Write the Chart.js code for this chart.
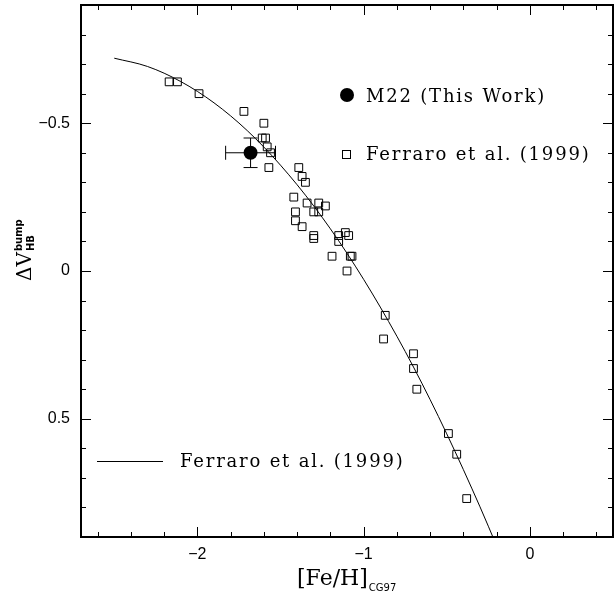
<!DOCTYPE html>
<html>
<head>
<meta charset="utf-8">
<script src="https://cdn.jsdelivr.net/npm/chart.js@4/dist/chart.umd.min.js"></script>
<style>
  html, body { margin: 0; padding: 0; background: #fff; }
</style>
</head>
<body>
<canvas id="chart" width="616" height="593"></canvas>
<script>
// Ferraro et al. (1999) clusters
const ferraroFeH = [-2.17, -2.12, -1.99, -1.72, -1.60, -1.61, -1.59, -1.58, -1.56, -1.57,
                    -1.39, -1.37, -1.35, -1.42, -1.34, -1.27, -1.23, -1.41, -1.30, -1.27,
                    -1.41, -1.37, -1.30, -1.30, -1.11, -1.15, -1.09, -1.15, -1.19, -1.08,
                    -1.07, -1.10, -0.87, -0.88, -0.70, -0.70, -0.68, -0.49, -0.44, -0.38];
const ferraroDV = [-0.64, -0.64, -0.60, -0.54, -0.50, -0.45, -0.45, -0.42, -0.40, -0.35,
                   -0.35, -0.32, -0.30, -0.25, -0.23, -0.23, -0.22, -0.20, -0.20, -0.20,
                   -0.17, -0.15, -0.12, -0.11, -0.13, -0.12, -0.12, -0.10, -0.05, -0.05,
                   -0.05, 0.00, 0.15, 0.23, 0.28, 0.33, 0.40, 0.55, 0.62, 0.77];

// M22 (this work)
const m22FeH = [-1.68];
const m22DV = [-0.40];
const m22ErrFeH = [0.15];
const m22ErrDV = [0.05];

// Ferraro et al. (1999) relation
const fitFeH = [-2.5, -2.3, -2.1, -1.9, -1.7, -1.5, -1.3, -1.1, -0.9, -0.7, -0.5, -0.3, -0.2];
const fitDV = [-0.720, -0.692, -0.641, -0.569, -0.475, -0.358, -0.220, -0.060, 0.122, 0.325, 0.551, 0.798, 0.930];

const xTicks = [-2, -1, 0];
const yTicks = [-0.5, 0, 0.5];

const serif = '"DejaVu Serif", serif';
const sans = '"DejaVu Sans", sans-serif';
const tickFont = '16px "Liberation Sans", sans-serif';
const fmt = v => v < 0 ? '\u2212' + Math.abs(v) : String(v);
const pts = (xs, ys) => xs.map((x, i) => ({ x, y: ys[i] }));

const frame = {
    id: 'frame',
    afterDraw(chart) {
        const { ctx, chartArea: a, scales: { x, y } } = chart;
        ctx.save();
        ctx.strokeStyle = '#000';
        ctx.lineWidth = 1;
        ctx.beginPath();
        for (let k = -13; k <= 2; k++) {
            const px = Math.round(x.getPixelForValue(k / 5)) + 0.5;
            const len = k % 5 === 0 ? 10 : 5;
            ctx.moveTo(px, a.bottom); ctx.lineTo(px, a.bottom - len);
            ctx.moveTo(px, a.top); ctx.lineTo(px, a.top + len);
        }
        for (let k = -8; k <= 8; k++) {
            const py = Math.round(y.getPixelForValue(k / 10)) + 0.5;
            const len = k % 5 === 0 ? 10 : 5;
            ctx.moveTo(a.left, py); ctx.lineTo(a.left + len, py);
            ctx.moveTo(a.right, py); ctx.lineTo(a.right - len, py);
        }
        ctx.stroke();
        ctx.lineWidth = 2;
        ctx.strokeRect(a.left, a.top, a.width, a.height);

        // tick labels
        ctx.fillStyle = '#000';
        ctx.font = tickFont;
        ctx.textAlign = 'center';
        ctx.textBaseline = 'middle';
        xTicks.forEach(v => ctx.fillText(fmt(v), x.getPixelForValue(v), a.bottom + 18));
        ctx.textAlign = 'right';
        yTicks.forEach(v => ctx.fillText(fmt(v), a.left - 11, y.getPixelForValue(v)));

        // axis titles
        ctx.textAlign = 'left';
        ctx.textBaseline = 'alphabetic';
        ctx.font = '22px ' + serif;
        ctx.fillText('[Fe/H]', 297, 585);
        const w1 = ctx.measureText('[Fe/H]').width;
        ctx.font = '10px ' + sans;
        ctx.fillText('CG97', 297 + w1 + 1, 591);

        ctx.save();
        ctx.translate(31, 281);
        ctx.rotate(-Math.PI / 2);
        ctx.font = '20px ' + serif;
        ctx.fillText('\u0394V', 0, 0);
        const w2 = ctx.measureText('\u0394V').width;
        ctx.font = 'bold 10px ' + sans;
        ctx.fillText('bump', w2 + 1, -9);
        ctx.fillText('HB', w2 + 1, 3);
        ctx.restore();

        // legend
        ctx.font = '18px ' + serif;
        ctx.letterSpacing = '1.8px';
        ctx.beginPath();
        ctx.arc(347, 95, 7, 0, Math.PI * 2);
        ctx.fill();
        ctx.fillText('M22 (This Work)', 366, 102);
        ctx.lineWidth = 1;
        ctx.strokeRect(342.5, 150.5, 8, 8);
        ctx.fillText('Ferraro et al. (1999)', 366, 160);
        ctx.beginPath();
        ctx.moveTo(97, 461.5); ctx.lineTo(163, 461.5);
        ctx.stroke();
        ctx.fillText('Ferraro et al. (1999)', 180, 467);
        ctx.restore();
    }
};

const errorBars = {
    id: 'errorBars',
    afterDatasetsDraw(chart) {
        const { ctx, scales: { x, y } } = chart;
        ctx.save();
        ctx.strokeStyle = '#000';
        ctx.lineWidth = 1;
        ctx.beginPath();
        m22FeH.forEach((fe, i) => {
            const cx = x.getPixelForValue(fe), cy = y.getPixelForValue(m22DV[i]);
            const x0 = x.getPixelForValue(fe - m22ErrFeH[i]), x1 = x.getPixelForValue(fe + m22ErrFeH[i]);
            const y0 = y.getPixelForValue(m22DV[i] - m22ErrDV[i]), y1 = y.getPixelForValue(m22DV[i] + m22ErrDV[i]);
            ctx.moveTo(x0, cy); ctx.lineTo(x1, cy);
            ctx.moveTo(x0, cy - 7); ctx.lineTo(x0, cy + 7);
            ctx.moveTo(x1, cy - 7); ctx.lineTo(x1, cy + 7);
            ctx.moveTo(cx, y0); ctx.lineTo(cx, y1);
            ctx.moveTo(cx - 7, y0); ctx.lineTo(cx + 7, y0);
            ctx.moveTo(cx - 7, y1); ctx.lineTo(cx + 7, y1);
        });
        ctx.stroke();
        ctx.restore();
    }
};

new Chart(document.getElementById('chart'), {
    type: 'scatter',
    data: {
        datasets: [
            {
                label: 'Ferraro et al. (1999) relation',
                data: pts(fitFeH, fitDV),
                showLine: true,
                cubicInterpolationMode: 'monotone',
                pointRadius: 0,
                borderColor: '#000',
                borderWidth: 1
            },
            {
                label: 'Ferraro et al. (1999)',
                data: pts(ferraroFeH, ferraroDV),
                pointStyle: 'rect',
                pointRadius: 5.5,
                borderColor: '#000',
                backgroundColor: 'rgba(0,0,0,0)',
                borderWidth: 1
            },
            {
                label: 'M22 (This Work)',
                data: pts(m22FeH, m22DV),
                pointStyle: 'circle',
                pointRadius: 7,
                borderColor: '#000',
                backgroundColor: '#000',
                borderWidth: 0
            }
        ]
    },
    options: {
        responsive: false,
        animation: false,
        devicePixelRatio: 1,
        layout: { autoPadding: false, padding: { top: 5, right: 3, left: 0, bottom: 0 } },
        plugins: { legend: { display: false }, tooltip: { enabled: false } },
        scales: {
            x: {
                type: 'linear',
                min: -2.7,
                max: 0.5,
                afterBuildTicks: s => { s.ticks = xTicks.map(v => ({ value: v })); },
                afterFit: s => { s.height = 56; s.paddingLeft = 0; s.paddingRight = 0; },
                grid: { display: false },
                border: { display: false },
                ticks: { display: false }
            },
            y: {
                type: 'linear',
                reverse: true,
                min: -0.9,
                max: 0.9,
                afterBuildTicks: s => { s.ticks = yTicks.map(v => ({ value: v })); },
                afterFit: s => { s.width = 81; s.paddingTop = 0; s.paddingBottom = 0; },
                grid: { display: false },
                border: { display: false },
                ticks: { display: false }
            }
        }
    },
    plugins: [errorBars, frame]
});
</script>
</body>
</html>
